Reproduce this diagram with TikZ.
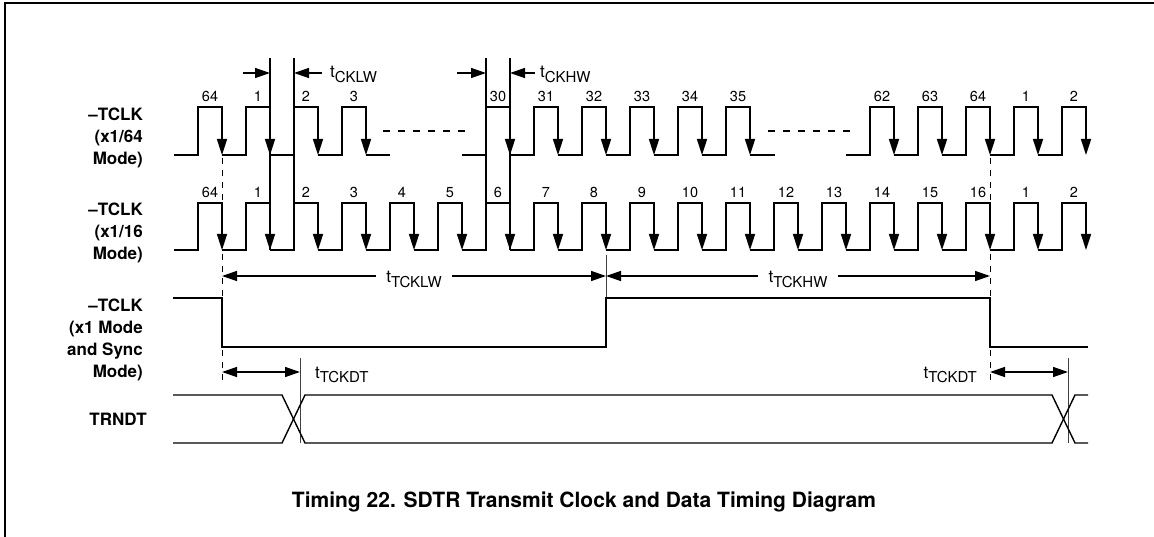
\documentclass[tikz,border=0pt]{standalone}
\usepackage{fontspec}
\setmainfont{TeX Gyre Heros}
\usetikzlibrary{arrows.meta}

\tikzset{
  wave/.style={line width=1.6pt},
  fall/.style={wave, -{Triangle[length=16pt,width=10pt]}},
  guide/.style={line width=0.7pt, dash pattern=on 6pt off 6pt},
  thinline/.style={line width=0.7pt, draw=black!75},
  dimline/.style={line width=1.4pt, -{Triangle[length=15pt,width=10pt]}},
  dimboth/.style={line width=1.4pt, {Triangle[length=15pt,width=10pt]}-{Triangle[length=15pt,width=10pt]}},
  sig/.style={font=\bfseries\fontsize{17}{22}\selectfont, align=right, anchor=east, inner sep=0pt},
  num/.style={font=\fontsize{14.5}{14.5}\selectfont, anchor=base, inner sep=0pt},
  dimlbl/.style={inner sep=0pt, anchor=base west}
}
\newcommand{\tsub}[1]{{\fontsize{17}{17}\selectfont t}\raisebox{-4.5pt}{\fontsize{15}{15}\selectfont #1}}

\begin{document}
\begin{tikzpicture}[x=1pt,y=-1pt]
  \useasboundingbox (0,0) rectangle (1154,537);
  \draw[line width=1.6pt] (5,537) -- (5,3) -- (1154,3); % Frame

  % Signal names
  \node[sig] (n64) at (143,138) {--TCLK\\(x1/64\\Mode)};
  \node[sig] (n16) at (143,233) {--TCLK\\(x1/16\\Mode)};
  \node[sig] (n1) at (143,340) {--TCLK\\(x1 Mode\\and Sync\\Mode)};
  \node[sig] (nd) at (147,419) {TRNDT};

  % Guides
  \draw[guide] (222,158) -- (222,384);
  \draw[guide] (990,158) -- (990,384);
  \draw[thinline] (606,255) -- (606,298);
  \draw[thinline] (300,358) -- (300,443);
  \draw[thinline] (1068,358) -- (1068,443);

  % -TCLK (x1/64)
  \foreach \x/\n in {198/64,246/1,294/2,342/3,486/30,534/31,582/32,630/33,
      678/34,726/35,870/62,918/63,966/64,1014/1,1062/2}{
    \draw[fall] (\x-24,155) -- (\x,155) -- (\x,107) -- (\x+24,107) -- (\x+24,155);
    \node[num] (a\x) at (\x+12,102) {\n};
  }
  \draw[wave] (366,155) -- (390,155);
  \draw[wave] (750,155) -- (775,155);
  \draw[line width=1.4pt, dash pattern=on 7pt off 8pt] (383,131) -- (468,131);
  \draw[line width=1.4pt, dash pattern=on 7pt off 8pt] (768,131) -- (853,131);

  % -TCLK (x1/16)
  \foreach \x/\n in {198/64,246/1,294/2,342/3,390/4,438/5,486/6,534/7,582/8,
      630/9,678/10,726/11,774/12,822/13,870/14,918/15,966/16,1014/1,1062/2}{
    \draw[fall] (\x-24,250) -- (\x,250) -- (\x,203) -- (\x+24,203) -- (\x+24,250);
    \node[num] (b\x) at (\x+12,198) {\n};
  }

  % Edge markers
  \draw[wave] (270,58) -- (270,250);
  \draw[wave] (294,58) -- (294,250);
  \draw[wave] (486,58) -- (486,250);
  \draw[wave] (510,58) -- (510,250);

  % tCKLW and tCKHW
  \coordinate (k1s) at (243,73);
  \coordinate (k1) at (270,73);
  \coordinate (k2) at (294,73);
  \coordinate (k2s) at (322,73);
  \draw[dimline] (k1s) -- (k1);
  \draw[dimline] (k2s) -- (k2);
  \node[dimlbl] (tcklw) at (330,78) {\tsub{CKLW}};
  \coordinate (h1s) at (457,73);
  \coordinate (h1) at (486,73);
  \coordinate (h2) at (510,73);
  \coordinate (h2s) at (535,73);
  \draw[dimline] (h1s) -- (h1);
  \draw[dimline] (h2s) -- (h2);
  \node[dimlbl] (tckhw) at (540,78) {\tsub{CKHW}};

  % -TCLK (x1 and Sync)
  \draw[wave] (173,298) -- (222,298) -- (222,347) -- (606,347)
    -- (606,298) -- (990,298) -- (990,347) -- (1088,347);

  % tTCKLW and tTCKHW
  \coordinate (w1) at (222,276);
  \coordinate (w2) at (606,276);
  \coordinate (w3) at (990,276);
  \node[dimlbl, anchor=base, inner xsep=10pt] (tlw) at (414,283) {\tsub{TCKLW}};
  \node[dimlbl, anchor=base, inner xsep=10pt] (thw) at (798,283) {\tsub{TCKHW}};
  \draw[dimline] (tlw.west |- w1) -- (w1);
  \draw[dimline] (tlw.east |- w2) -- (w2);
  \draw[dimline] (thw.west |- w2) -- (w2);
  \draw[dimline] (thw.east |- w3) -- (w3);

  % TRNDT
  \draw[line width=1.4pt] (173,395) -- (282,395) -- (305,443) -- (1052,443)
    -- (1075,395) -- (1088,395);
  \draw[line width=1.4pt] (173,443) -- (282,443) -- (305,395) -- (1052,395)
    -- (1075,443) -- (1088,443);

  % tTCKDT
  \coordinate (d1) at (222,372);
  \coordinate (d2) at (300,372);
  \coordinate (d3) at (990,372);
  \coordinate (d4) at (1068,372);
  \draw[dimboth] (d1) -- (d2);
  \draw[dimboth] (d3) -- (d4);
  \node[dimlbl] (tdt1) at (315,378) {\tsub{TCKDT}};
  \node[dimlbl, anchor=base east] (tdt2) at (977,378) {\tsub{TCKDT}};

  % Caption
  \node[font=\bfseries\fontsize{21}{21}\selectfont, anchor=base] (title) at (584,507)
    {Timing 22. SDTR Transmit Clock and Data Timing Diagram};
\end{tikzpicture}
\end{document}
